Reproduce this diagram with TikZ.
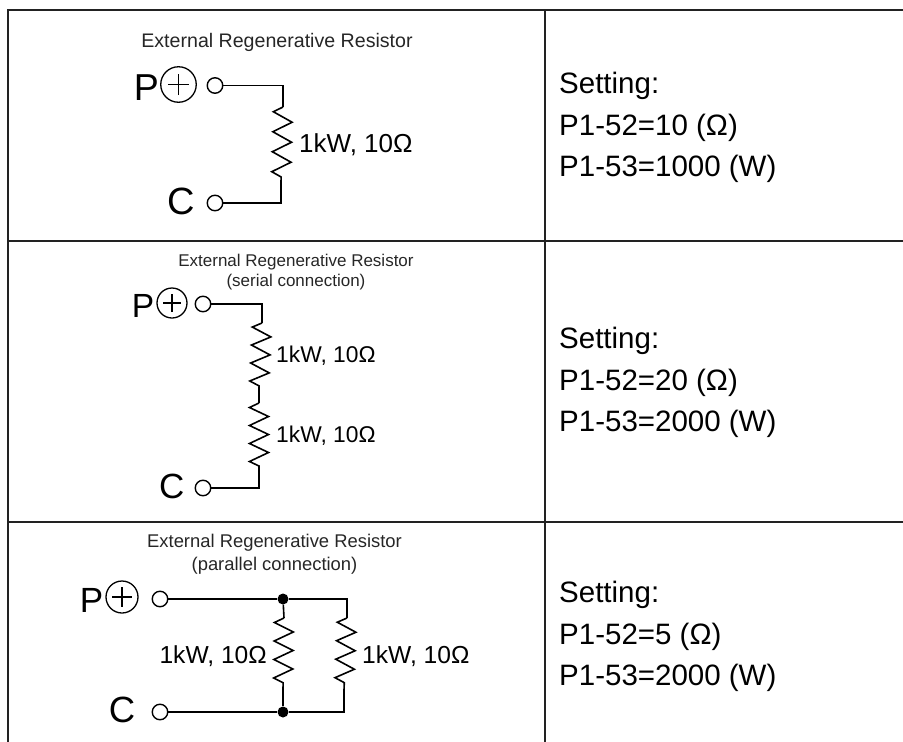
\documentclass[tikz,border=0pt]{standalone}
\usepackage{fontspec}
\setmainfont{Liberation Sans}
\usetikzlibrary{positioning,calc,decorations.pathmorphing}
\definecolor{rulegray}{HTML}{222222}
\tikzset{
    rule/.style={line width=2.2pt, rulegray},
    wire/.style={line width=1.6pt, black},
    resistor/.style={wire, decorate, decoration={zigzag, mirror, segment length=#1, amplitude=9.5pt}},
    resistor/.default=20pt,
    terminal/.style={circle, draw, line width=1.4pt, inner sep=0pt, minimum size=15.5pt, fill=white},
    junction/.style={circle, fill=black, inner sep=0pt, minimum size=11pt},
    plus/.style={circle, draw, line width=1.3pt, inner sep=0pt, minimum size=#1, path picture={
        \draw[line width=1.3pt] ([xshift=-0.3*#1]path picture bounding box.center) -- ([xshift=0.3*#1]path picture bounding box.center);
        \draw[line width=1.3pt] ([yshift=-0.3*#1]path picture bounding box.center) -- ([yshift=0.3*#1]path picture bounding box.center);
    }},
    pin/.style={font=\fontsize{#1}{#1}\selectfont, inner sep=0pt, anchor=east},
    caption/.style={align=center, inner sep=0pt, text=black!85},
    rating/.style={inner sep=0pt},
    setting/.style={font=\fontsize{29.5}{41.5}\selectfont, align=left, anchor=west, inner sep=0pt},
}
\begin{document}
\begin{tikzpicture}[x=1pt, y=-1pt]
    \useasboundingbox (0,0) rectangle (903,742);
    % Table rules
    \coordinate (tl) at (8,10);
    \coordinate (tr) at (903,10);
    \coordinate (ml) at (8,241);
    \coordinate (mr) at (903,241);
    \coordinate (nl) at (8,522);
    \coordinate (nr) at (903,522);
    \coordinate (bl) at (8,742);
    \coordinate (ct) at (545,10);
    \coordinate (cb) at (545,742);
    \draw[rule] (tr) -- (tl) -- (bl);
    \draw[rule] (ml) -- (mr);
    \draw[rule] (nl) -- (nr);
    \draw[rule] (ct) -- (cb);

    % First row
    \node[caption, font=\fontsize{19.6}{23}\selectfont] (capa) at (277,42) {External Regenerative Resistor};
    \node[pin=37.5] (pa) at (159,87.5) {P};
    \node[plus=35.5pt] (plusa) at (178.5,84.5) {};
    \node[terminal] (ta) at (215,85.5) {};
    \node[pin=38] (ca) at (195,201.5) {C};
    \node[terminal] (tca) at (215,203) {};
    \coordinate (ra1) at (283,107);
    \coordinate (ra2) at (281,182);
    \draw[wire] (ta) -| (ra1);
    \draw[wire] (tca) -| (ra2);
    \draw[resistor] (ra1) -- (ra2);
    \node[rating, anchor=west, font=\fontsize{26}{30}\selectfont] (rata) at (299,145) {1kW, 10Ω};
    \node[setting] (seta) at (559,127.5) {Setting:\\P1-52=10 (Ω)\\P1-53=1000 (W)};

    % Second row
    \node[caption, font=\fontsize{17}{20}\selectfont] (capb) at (296,272) {External Regenerative Resistor\\(serial connection)};
    \node[pin=33.5] (pb) at (154.5,306) {P};
    \node[plus=30pt] (plusb) at (172,303) {};
    \node[terminal] (tb) at (203,304) {};
    \node[pin=35] (cb) at (184.5,486) {C};
    \node[terminal] (tcb) at (203,488) {};
    \coordinate (rb1) at (262,323);
    \coordinate (rb2) at (259,388);
    \coordinate (rb3) at (259,403);
    \coordinate (rb4) at (259,468);
    \draw[wire] (tb) -| (rb1);
    \draw[wire] (tcb) -| (rb4);
    \draw[resistor=18pt] (rb1) -- (rb2);
    \draw[wire] (rb2) -- (rb3);
    \draw[resistor=18pt] (rb3) -- (rb4);
    \node[rating, anchor=west, font=\fontsize{22.8}{26}\selectfont] (ratb) at (276,356) {1kW, 10Ω};
    \node[rating, anchor=west, font=\fontsize{22.8}{26}\selectfont] (ratc) at (276,436) {1kW, 10Ω};
    \node[setting] (setb) at (559,382.5) {Setting:\\P1-52=20 (Ω)\\P1-53=2000 (W)};

    % Third row
    \node[caption, font=\fontsize{18.4}{23}\selectfont] (capc) at (274.5,554.5) {External Regenerative Resistor\\(parallel connection)};
    \node[pin=35] (pc) at (103.5,600.5) {P};
    \node[plus=32pt] (plusc) at (122,597) {};
    \node[terminal] (tc) at (160,599) {};
    \node[pin=36.5] (cc) at (135.5,710) {C};
    \node[terminal] (tcc) at (160,712) {};
    \node[junction] (ju) at (283,599) {};
    \node[junction] (jd) at (283,712) {};
    \coordinate (cu) at (347,599);
    \coordinate (cd) at (344,712);
    \coordinate (rc1) at (284,618);
    \coordinate (rc2) at (283,690);
    \coordinate (rd1) at (347,618);
    \coordinate (rd2) at (344,690);
    \draw[wire] (tc) -- (ju) -- (cu) -- (rd1);
    \draw[wire] (tcc) -- (jd) -- (cd) -- (rd2);
    \draw[wire] (ju) -- (rc1);
    \draw[wire] (jd) -- (rc2);
    \draw[resistor=18.5pt] (rc1) -- (rc2);
    \draw[resistor=18.5pt] (rd1) -- (rd2);
    \node[rating, anchor=east, font=\fontsize{24.6}{28}\selectfont] (ratd) at (267,656) {1kW, 10Ω};
    \node[rating, anchor=west, font=\fontsize{24.6}{28}\selectfont] (rate) at (362,656) {1kW, 10Ω};
    \node[setting] (setc) at (559,636.5) {Setting:\\P1-52=5 (Ω)\\P1-53=2000 (W)};
\end{tikzpicture}
\end{document}
